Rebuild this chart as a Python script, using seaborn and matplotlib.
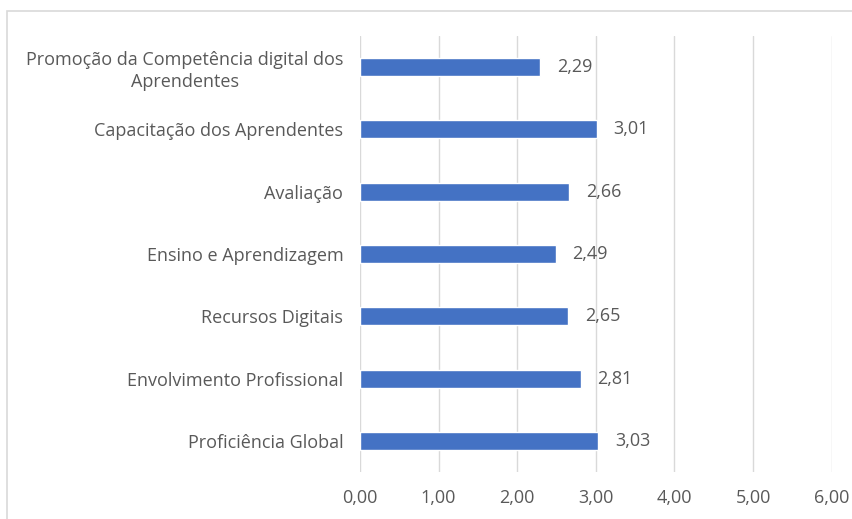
import matplotlib
matplotlib.use("Agg")

import matplotlib.pyplot as plt
import pandas as pd
import seaborn as sns
from matplotlib.patches import Rectangle

categories = [
    "Promoção da Competência digital dos\nAprendentes",
    "Capacitação dos Aprendentes",
    "Avaliação",
    "Ensino e Aprendizagem",
    "Recursos Digitais",
    "Envolvimento Profissional",
    "Proficiência Global",
]
values = [2.29, 3.01, 2.66, 2.49, 2.65, 2.81, 3.03]
x_ticks = [0, 1, 2, 3, 4, 5, 6]

BAR_BLUE = "#4472C4"
TEXT_GREY = "#595959"
GRID_GREY = "#d9d9d9"
FS = 13

sns.set_theme(style="white")
plt.rcParams["font.family"] = ["Open Sans", "DejaVu Sans"]

df = pd.DataFrame({"categoria": categories, "valor": values})

fig = plt.figure(figsize=(8.53, 5.19), dpi=100)
ax = fig.add_axes([0.422, 0.0906, 0.553, 0.84])

sns.barplot(data=df, x="valor", y="categoria", color=BAR_BLUE, width=0.29,
            saturation=1, ax=ax)

ax.set_xlim(0, 6)
ax.set_xticks(x_ticks)
ax.set_xticklabels([f"{t:.2f}".replace(".", ",") for t in x_ticks])
ax.grid(axis="x", color=GRID_GREY, linewidth=1)
ax.set_axisbelow(True)
for s in ax.spines.values():
    s.set_visible(False)
ax.set_xlabel("")
ax.set_ylabel("")
ax.tick_params(axis="x", colors=TEXT_GREY, labelsize=FS, length=0, pad=12)
ax.tick_params(axis="y", colors=TEXT_GREY, labelsize=FS, length=0, pad=12)
for lab in ax.get_yticklabels():
    lab.set_multialignment("center")
    lab.set_linespacing(1.25)

# data labels with decimal comma
for p, v in zip(ax.patches, values):
    ax.annotate(f"{v:.2f}".replace(".", ","),
                (p.get_width(), p.get_y() + p.get_height() / 2),
                xytext=(12, 0), textcoords="offset points",
                ha="left", va="center", fontsize=FS, color=TEXT_GREY)

# chart frame (cropped at right and bottom)
fig.patches.append(Rectangle((7 / 853, -0.1), 1.2, 1.1 - 11 / 519,
                             transform=fig.transFigure, fill=False,
                             edgecolor=GRID_GREY, linewidth=1.2))

fig.savefig("out.png", dpi=100)
